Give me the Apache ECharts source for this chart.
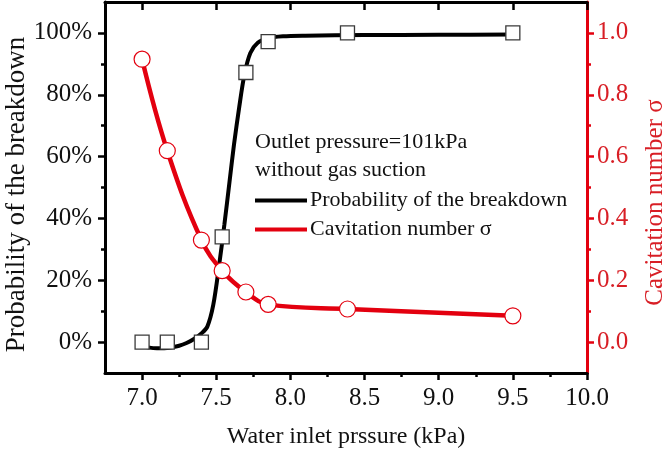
<!DOCTYPE html>
<html>
<head>
<meta charset="utf-8">
<script src="https://cdn.jsdelivr.net/npm/echarts@6/dist/echarts.min.js"></script>
<style>
  html, body { margin: 0; padding: 0; background: #fff; }
  #chart { width: 669px; height: 452px; }
</style>
</head>
<body>
<div id="chart"></div>
<script>
// measured points (water inlet pressure, kPa)
const pressure    = [7.0, 7.17, 7.4, 7.54, 7.7, 7.85, 8.385, 9.5];
const probability = [0, 0, 0, 34, 87.2, 97.2, 100, 100];          // %
const sigma       = [0.915, 0.619, 0.33, 0.231, 0.162, 0.122, 0.107, 0.085];

// fitted breakdown curve
const fitPressure = [7.0, 7.05, 7.1, 7.15, 7.2, 7.25, 7.3, 7.35, 7.4, 7.44, 7.48, 7.52, 7.555,
                     7.59, 7.62, 7.655, 7.69, 7.73, 7.78, 7.85, 7.95, 8.1, 8.5, 9.0, 9.5];
const fitProb     = [-1.2, -1.8, -2.0, -2.0, -1.7, -1.2, -0.3, 1.0, 2.8, 5.0, 12, 25, 38,
                     52, 64, 76, 86.5, 93.5, 96.8, 98.3, 98.9, 99.1, 99.3, 99.4, 99.5];

// ticks
const xTicks     = [7.0, 7.5, 8.0, 8.5, 9.0, 9.5, 10.0];
const xMinor     = [7.25, 7.75, 8.25, 8.75, 9.25, 9.75];
const probTicks  = [0, 20, 40, 60, 80, 100];
const probMinor  = [10, 30, 50, 70, 90];
const sigmaTicks = [0, 0.2, 0.4, 0.6, 0.8, 1.0];
const sigmaMinor = [0.1, 0.3, 0.5, 0.7, 0.9];

const FONT = "'Liberation Serif', 'Times New Roman', serif";
const RED = '#e3000f';
const RED_TEXT = '#d81e25';
const zip = (a, b) => a.map((v, i) => [v, b[i]]);

const chart = echarts.init(document.getElementById('chart'), null, { renderer: 'canvas' });

const xBase = { type: 'value', min: 6.75, max: 10, splitLine: { show: false } };
const minorTick = (vals, color) => ({
  show: true, customValues: vals, length: 4, lineStyle: { color, width: 2.5 },
});

chart.setOption({
  animation: false,
  grid: { left: 105, right: 82, top: 2, bottom: 79, outerBoundsMode: 'none', containLabel: false },
  legend: {
    orient: 'vertical', left: 255, top: 186,
    itemWidth: 52, itemHeight: 4, itemGap: 0, icon: 'rect',
    data: ['Probability of the breakdown', 'Cavitation number σ'],
    textStyle: { fontFamily: FONT, fontSize: 22, color: '#111', lineHeight: 29, padding: [0, 0, 0, -2] },
    padding: 0,
  },
  graphic: [
    { type: 'text', left: 255, top: 131, style: { text: 'Outlet pressure=101kPa', font: `22px ${FONT}`, fill: '#111' } },
    { type: 'text', left: 255, top: 159, style: { text: 'without gas suction', font: `22px ${FONT}`, fill: '#111' } },
  ],
  xAxis: [
    {
      ...xBase, position: 'bottom',
      name: 'Water inlet prssure (kPa)', nameLocation: 'middle', nameGap: 52,
      nameTextStyle: { fontFamily: FONT, fontSize: 24, color: '#111' },
      axisLine: { onZero: false, lineStyle: { color: '#000', width: 3 } },
      axisTick: { customValues: xTicks, length: 7, lineStyle: { color: '#000', width: 2.5 } },
      axisLabel: { customValues: xTicks, formatter: v => v.toFixed(1), margin: 13,
                   fontFamily: FONT, fontSize: 25, color: '#111' },
    },
    {
      ...xBase, position: 'bottom',
      axisLine: { show: false, onZero: false },
      axisTick: minorTick(xMinor, '#000'),
      axisLabel: { show: false },
    },
    {
      ...xBase, position: 'top',
      axisLine: { onZero: false, lineStyle: { color: '#000', width: 3 } },
      axisTick: { inside: true, customValues: xTicks, length: 8, lineStyle: { color: '#000', width: 2.5 } },
      axisLabel: { show: false },
    },
  ],
  yAxis: [
    {
      type: 'value', position: 'left', min: -10, max: 110, splitLine: { show: false },
      name: 'Probability of the breakdown', nameLocation: 'middle', nameRotate: 90, nameGap: 75,
      nameMoveOverlap: false,
      nameTextStyle: { fontFamily: FONT, fontSize: 27, color: '#111', padding: [0, 14, 0, 0] },
      axisLine: { onZero: false, lineStyle: { color: '#000', width: 3 } },
      axisTick: { customValues: probTicks, length: 7, lineStyle: { color: '#000', width: 2.5 } },
      axisLabel: { customValues: probTicks, formatter: v => v + '%', margin: 13,
                   fontFamily: FONT, fontSize: 25, color: '#111' },
    },
    {
      type: 'value', position: 'left', min: -10, max: 110, splitLine: { show: false },
      axisLine: { show: false, onZero: false },
      axisTick: minorTick(probMinor, '#000'),
      axisLabel: { show: false },
    },
    {
      type: 'value', position: 'right', min: -0.1, max: 1.1, splitLine: { show: false },
      name: 'Cavitation number σ', nameLocation: 'middle', nameRotate: 90, nameGap: 56,
      nameTextStyle: { fontFamily: FONT, fontSize: 25, color: RED_TEXT, padding: [0, 30, 0, 0] },
      axisLine: { onZero: false, lineStyle: { color: RED, width: 3 } },
      axisTick: { customValues: sigmaTicks, length: 7, lineStyle: { color: RED, width: 2.5 } },
      axisLabel: { customValues: sigmaTicks, formatter: v => v.toFixed(1), margin: 10,
                   fontFamily: FONT, fontSize: 25, color: RED_TEXT },
    },
    {
      type: 'value', position: 'right', min: -0.1, max: 1.1, splitLine: { show: false },
      axisLine: { show: false, onZero: false },
      axisTick: minorTick(sigmaMinor, RED),
      axisLabel: { show: false },
    },
  ],
  series: [
    {
      name: 'Probability of the breakdown', type: 'line', xAxisIndex: 0, yAxisIndex: 0,
      data: zip(fitPressure, fitProb), smooth: 0.3, showSymbol: false, z: 2,
      itemStyle: { color: '#000' }, lineStyle: { color: '#000', width: 4 },
    },
    {
      name: 'Cavitation number σ', type: 'line', xAxisIndex: 0, yAxisIndex: 2,
      data: zip(pressure, sigma), smooth: 0.4, showSymbol: false, z: 3,
      itemStyle: { color: RED }, lineStyle: { color: RED, width: 4.5 },
    },
    {
      name: 'prob-points', type: 'scatter', xAxisIndex: 0, yAxisIndex: 0,
      data: zip(pressure, probability), symbol: 'rect', symbolSize: 14, z: 5,
      itemStyle: { color: '#fff', borderColor: '#3a3a3a', borderWidth: 1.3, opacity: 1 },
    },
    {
      name: 'sigma-points', type: 'scatter', xAxisIndex: 0, yAxisIndex: 2,
      data: zip(pressure, sigma), symbol: 'circle', symbolSize: 16, z: 4,
      itemStyle: { color: '#fff', borderColor: RED, borderWidth: 1.2, opacity: 1 },
    },
  ],
});
</script>
</body>
</html>
